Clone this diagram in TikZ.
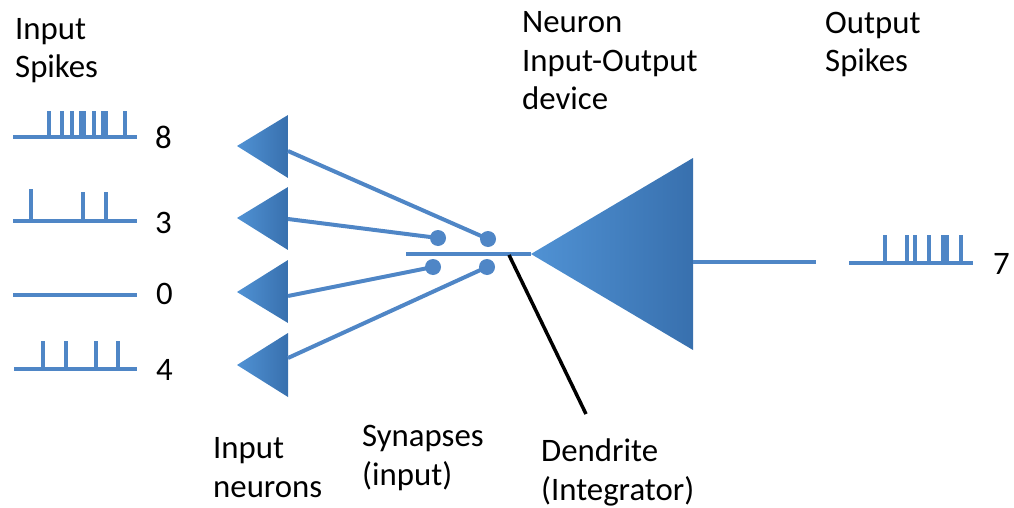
\documentclass[tikz,border=0pt]{standalone}
\usepackage{fontspec}
\setmainfont{Carlito}
\definecolor{lineblue}{RGB}{79,134,198}
\definecolor{triL}{RGB}{80,146,212}
\definecolor{triR}{RGB}{56,112,174}
\tikzset{
  wire/.style={draw=lineblue, line width=4pt},
  spk/.style={draw=lineblue, line width=4pt},
  base/.style={draw=lineblue, line width=4.5pt},
  tri/.style={left color=triL, right color=triR, draw=none},
  syn/.style={circle, fill=lineblue, inner sep=0pt, minimum size=16pt},
  lbl/.style={anchor=base west, inner sep=0pt, align=left, font=\fontsize{32.8}{38.5}\selectfont},
  num/.style={anchor=base west, inner sep=0pt, font=\fontsize{32.8}{38}\selectfont}
}
\begin{document}
\begin{tikzpicture}[x=1pt,y=-1pt]
\useasboundingbox (0,0) rectangle (1014,508);
% labels (anchor at baseline of last line)
\node[lbl] (lInSp) at (15,78) {Input\\Spikes};
\node[lbl] (lNeur) at (522,110) {Neuron\\Input-Output\\device};
\node[lbl] (lOut) at (825,72) {Output\\Spikes};
\node[lbl] (lInN) at (213,497) {Input\\neurons};
\node[lbl] (lSyn) at (362,485) {Synapses\\(input)};
\node[lbl] (lDen) at (541,500) {Dendrite\\(Integrator)};
% counts
\node[num] (c8) at (155,148) {8};
\node[num] (c3) at (155,233) {3};
\node[num] (c0) at (156,304) {0};
\node[num] (c4) at (156,380) {4};
\node[num] (c7) at (993,274) {7};
% input spike trains
\draw[base] (13,137) -- (137,137);
\foreach \x in {49,62,72,80.5,83.5,94,102.5,105.5,125} \draw[spk] (\x,137) -- (\x,111);
\draw[base] (13,221) -- (137,221);
\draw[spk] (31,221) -- (31,189);
\foreach \x in {83,106} \draw[spk] (\x,221) -- (\x,192);
\draw[base] (13,295) -- (137,295);
\draw[base] (14,369) -- (137,369);
\foreach \x in {43,66,96,118} \draw[spk] (\x,369) -- (\x,341);
% input neurons
\foreach \i/\y/\t/\b in {1/146/115/178, 2/218/187/250, 3/292/260/323, 4/365/333/397}{
  \path[tri] (237,\y) -- (288,\t) -- (288,\b) -- cycle;
}
\coordinate (n1) at (288,151);
\coordinate (n2) at (288,219);
\coordinate (n3) at (288,296);
\coordinate (n4) at (288,358);
% synapses
\node[syn] (s1) at (438,238) {};
\node[syn] (s2) at (488,239) {};
\node[syn] (s3) at (433,267) {};
\node[syn] (s4) at (487,267) {};
\draw[wire] (n1) -- (s2.center);
\draw[wire] (n2) -- (s1.center);
\draw[wire] (n3) -- (s3.center);
\draw[wire] (n4) -- (s4.center);
% dendrite
\coordinate (d0) at (406,254);
\coordinate (tip) at (531,254);
\coordinate (dj) at (509,255);
\coordinate (dl) at (586,414);
\draw[wire] (d0) -- (tip);
\draw[line width=3.5pt, black] (dj) -- (dl);
% neuron
\path[tri] (tip) -- (693,158) -- (693,350) -- cycle;
\coordinate (axon) at (693,262);
\coordinate (axEnd) at (816,262);
\draw[wire] (axon) -- (axEnd);
% output spikes
\draw[base] (849,263) -- (973,263);
\foreach \x in {885,907,915,929,943,947,961} \draw[spk] (\x,263) -- (\x,235);
\end{tikzpicture}
\end{document}
